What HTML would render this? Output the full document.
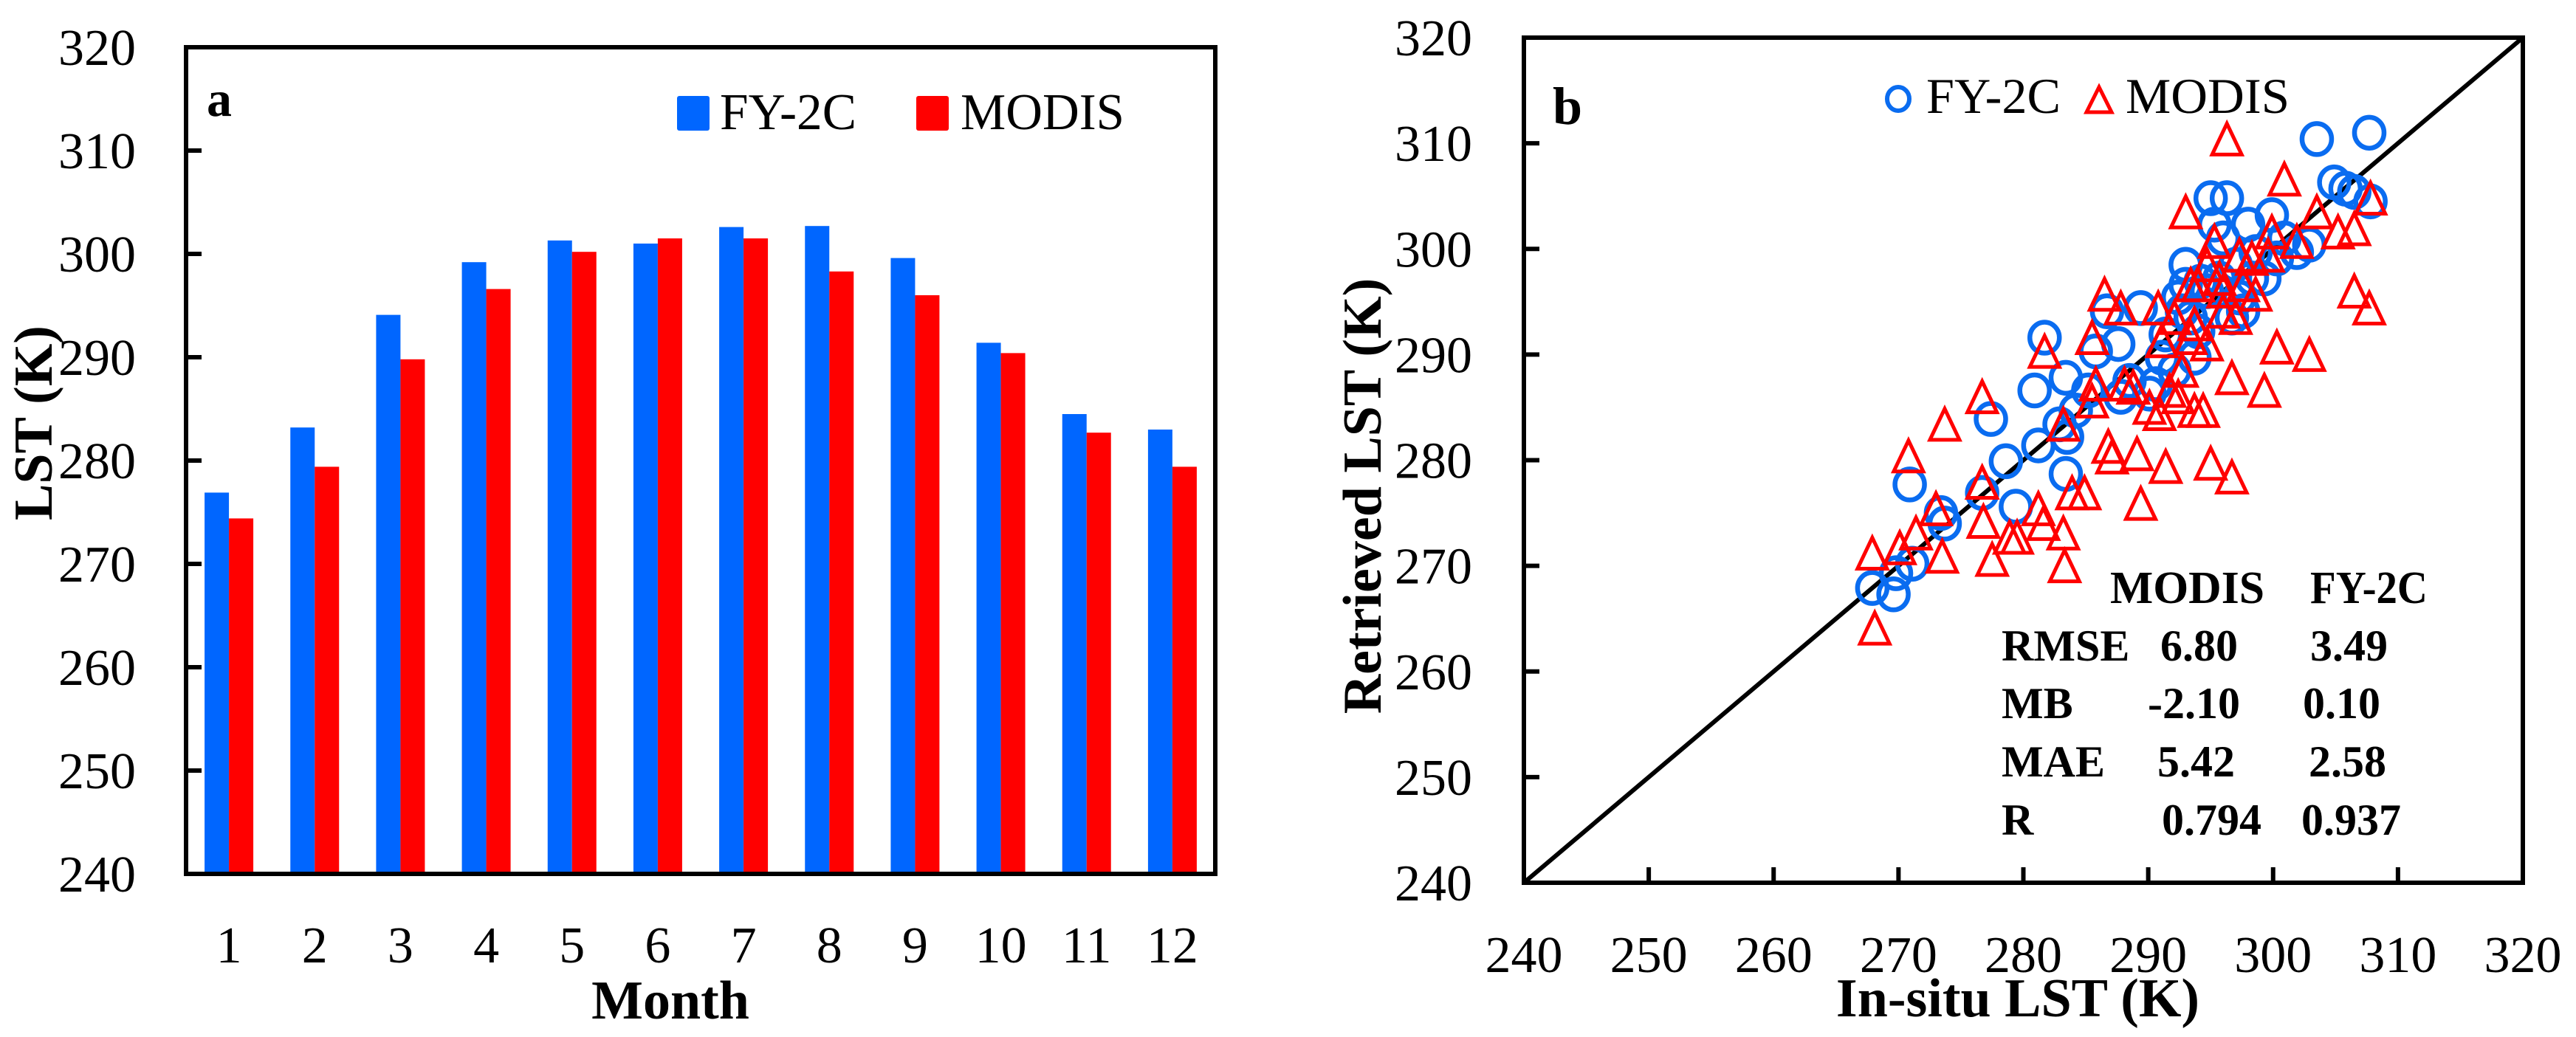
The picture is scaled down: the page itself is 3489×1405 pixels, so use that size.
<!DOCTYPE html>
<html><head><meta charset="utf-8"><style>
html,body{margin:0;padding:0;background:#fff;}
svg{display:block;font-family:"Liberation Serif",serif;}
</style></head><body>
<svg id="chart" xmlns="http://www.w3.org/2000/svg" width="3489" height="1405" viewBox="0 0 3489 1405">
<rect x="0" y="0" width="3489" height="1405" fill="#fff"/>
<g id="pa"></g>
<g id="pb"></g>
</svg>
<script>
const months = ["1","2","3","4","5","6","7","8","9","10","11","12"];
const fy2cMonthly = [276.9,283.2,294.1,299.2,301.3,301.0,302.6,302.7,299.6,291.4,284.5,283.0];
const modisMonthly = [274.4,279.4,289.8,296.6,300.2,301.5,301.5,298.3,296.0,290.4,282.7,279.4];
const yTicksA = [240,250,260,270,280,290,300,310,320];
const ticksB = [240,250,260,270,280,290,300,310,320];
const fyX = [267.9,269.6,269.8,271.1,270.9,273.4,273.7,276.7,277.4,278.6,279.4,281.7,280.9,281.2,283.4,282.9,283.5,283.4,284.2,285.2,285.8,286.7,287.6,287.8,288.5,289.4,290.1,290.6,291.1,291.4,292.1,292.4,292.7,293.0,293.4,293.7,294.0,294.2,294.7,295.0,295.3,296.0,296.3,296.7,297.0,297.6,298.0,298.3,298.6,299.3,299.9,300.3,300.9,301.9,302.9,303.5,304.9,305.8,306.5,307.7,307.8,297.3,295.7,293.0];
const fyY = [267.9,267.3,269.3,270.2,277.7,275.0,274.0,276.9,283.9,279.9,275.6,291.6,286.6,281.4,287.8,283.4,282.2,278.7,284.7,286.6,290.3,294.1,291.0,286.0,287.5,294.4,286.3,287.2,289.7,291.9,288.5,295.4,294.1,298.5,293.5,289.7,292.2,296.9,296.0,304.8,302.3,301.0,304.8,293.5,298.5,294.1,302.3,297.2,299.7,297.2,303.2,299.1,301.0,299.7,300.4,310.4,306.3,305.7,305.4,311.0,304.5,295.4,297.2,296.6];
const modisX = [268.1,267.9,270.1,270.8,271.4,273.0,273.5,273.7,276.7,276.7,276.8,277.5,278.9,279.5,281.2,281.7,281.6,283.2,283.3,283.2,283.9,284.9,285.5,285.5,285.8,286.5,286.8,287.1,287.8,288.1,288.8,289.1,289.4,290.1,290.8,290.9,291.1,291.4,291.7,292.1,292.4,292.7,293.0,293.4,293.7,294.0,294.4,294.7,295.0,295.3,295.7,296.0,296.3,296.7,296.7,297.0,297.3,297.6,298.3,298.6,299.3,299.6,299.9,300.3,300.9,301.9,302.9,303.5,305.2,306.5,306.5,307.7,307.8,293.4,294.7,293.7,296.0];
const modisY = [264.1,271.2,271.7,280.4,273.1,275.4,270.9,283.4,286.0,277.9,274.2,270.6,272.7,272.7,275.4,290.3,274.0,273.1,270.0,283.4,276.9,276.9,291.6,285.6,287.2,295.7,281.3,280.3,294.4,287.2,286.9,280.6,275.9,285.0,294.4,284.4,291.3,279.4,286.6,293.5,286.0,288.5,303.5,291.6,284.7,296.6,284.7,291.0,279.7,300.7,297.2,294.1,310.4,287.8,278.4,293.5,299.4,296.6,299.1,295.7,286.6,299.4,301.6,290.7,306.6,300.7,290.0,303.5,301.6,301.9,296.0,294.4,304.8,296.6,298.5,292.9,296.0];

const NS="http://www.w3.org/2000/svg";
function mk(parent, tag, attrs, text){
  const e=document.createElementNS(NS,tag);
  for(const k in attrs) e.setAttribute(k,attrs[k]);
  if(text!==undefined) e.textContent=text;
  parent.appendChild(e); return e;
}
const FONT = 70;
const TFONT = 74;

// ---------- Panel A ----------
const pa=document.getElementById('pa');
const aL=252,aR=1646,aT=64,aB=1184;
const yA=v=>aB-(v-240)/80*(aB-aT);
const band=(aR-aL)/months.length, bw=33;
months.forEach((m,i)=>{
  const cx=aL+band*(i+0.5);
  let r=mk(pa,'rect',{x:cx-bw,y:yA(fy2cMonthly[i]),width:bw,height:aB-yA(fy2cMonthly[i]),fill:'#0066ff'});
  
  
  r=mk(pa,'rect',{x:cx,y:yA(modisMonthly[i]),width:bw,height:aB-yA(modisMonthly[i]),fill:'#ff0000'});
  
  
  const t=mk(pa,'text',{x:cx,y:1304,'font-size':FONT,'text-anchor':'middle'},m);
  
  
});
yTicksA.forEach(v=>{
  const y=yA(v);
  if(v>240&&v<320){const l=mk(pa,'line',{x1:aL,x2:aL+21,y1:y,y2:y,stroke:'#000','stroke-width':6});
    
    }
  const t=mk(pa,'text',{x:184,y:y+24,'font-size':FONT,'text-anchor':'end'},String(v));
  
  
});
let fr=mk(pa,'rect',{x:aL,y:aT,width:aR-aL,height:aB-aT,fill:'none',stroke:'#000','stroke-width':6});


let tt=mk(pa,'text',{x:297,y:157,'font-size':68,'font-weight':'bold','text-anchor':'middle'},'a');


tt=mk(pa,'text',{x:908,y:1380,'font-size':TFONT,'font-weight':'bold','text-anchor':'middle'},'Month');


tt=mk(pa,'text',{x:0,y:0,'font-size':TFONT,'font-weight':'bold','text-anchor':'middle',transform:'translate(70,573) rotate(-90)'},'LST (K)');


let lg=mk(pa,'rect',{x:917,y:130,width:44,height:47,fill:'#0066ff',rx:3});


lg=mk(pa,'text',{x:975,y:175,'font-size':70,textLength:185,lengthAdjust:'spacingAndGlyphs'},'FY-2C');


lg=mk(pa,'rect',{x:1241,y:130,width:44,height:47,fill:'#ff0000',rx:3});


lg=mk(pa,'text',{x:1301,y:175,'font-size':70,textLength:222,lengthAdjust:'spacingAndGlyphs'},'MODIS');



// ---------- Panel B ----------
const pb=document.getElementById('pb');
const bL=2064,bR=3417,bT=51,bB=1196;
const xB=v=>bL+(v-240)/80*(bR-bL);
const yB=v=>bB-(v-240)/80*(bB-bT);
ticksB.forEach(v=>{
  const y=yB(v), x=xB(v);
  if(v>240&&v<320){
    let l=mk(pb,'line',{x1:bL,x2:bL+21,y1:y,y2:y,stroke:'#000','stroke-width':6});
    
    
    l=mk(pb,'line',{x1:x,x2:x,y1:bB,y2:bB-21,stroke:'#000','stroke-width':6});
    
    
  }
  let t=mk(pb,'text',{x:1994,y:y+24,'font-size':FONT,'text-anchor':'end'},String(v));
  
  
  t=mk(pb,'text',{x:x,y:1317,'font-size':FONT,'text-anchor':'middle'},String(v));
  
  
});
let dl=mk(pb,'line',{x1:xB(240),y1:yB(240),x2:xB(320),y2:yB(320),stroke:'#000','stroke-width':6});


fyX.forEach((v,i)=>{
  const c=mk(pb,'ellipse',{cx:xB(v),cy:yB(fyY[i]),rx:20,ry:21,fill:'none',stroke:'#0a6cf0','stroke-width':6.5});
  
  
});
function tri(cx,cy,w,h){return `${cx-w/2},${cy+h/2} ${cx+w/2},${cy+h/2} ${cx},${cy-h/2}`;}
modisX.forEach((v,i)=>{
  const p=mk(pb,'polygon',{points:tri(xB(v),yB(modisY[i]),40,42),fill:'none',stroke:'#ff0000','stroke-width':5,'stroke-linejoin':'miter'});
  
  
});
fr=mk(pb,'rect',{x:bL,y:bT,width:bR-bL,height:bB-bT,fill:'none',stroke:'#000','stroke-width':6});


tt=mk(pb,'text',{x:2123,y:168,'font-size':72,'font-weight':'bold','text-anchor':'middle'},'b');


tt=mk(pb,'text',{x:2733,y:1377,'font-size':TFONT,'font-weight':'bold','text-anchor':'middle'},'In-situ LST (K)');


tt=mk(pb,'text',{x:0,y:0,'font-size':TFONT,'font-weight':'bold','text-anchor':'middle',transform:'translate(1870,672) rotate(-90)'},'Retrieved LST (K)');


lg=mk(pb,'ellipse',{cx:2571,cy:134,rx:15,ry:16,fill:'none',stroke:'#0a6cf0','stroke-width':6});


lg=mk(pb,'text',{x:2609,y:153,'font-size':68,textLength:182,lengthAdjust:'spacingAndGlyphs'},'FY-2C');


lg=mk(pb,'polygon',{points:tri(2843,135,34,34),fill:'none',stroke:'#ff0000','stroke-width':5});


lg=mk(pb,'text',{x:2879,y:153,'font-size':68,textLength:222,lengthAdjust:'spacingAndGlyphs'},'MODIS');



// stats table
const statRows=["RMSE","MB","MAE","R"];
const statModis=["6.80","-2.10","5.42","0.794"];
const statFy=["3.49","0.10","2.58","0.937"];
const rowBase=[895,973,1052,1131];
const modisXs=[2926,2909,2922,2928];
const fyXs=[3129,3119,3127,3117];
let h=mk(pb,'text',{x:2858,y:817,'font-size':62,'font-weight':'bold',textLength:209,lengthAdjust:'spacingAndGlyphs'},'MODIS');


h=mk(pb,'text',{x:3129,y:817,'font-size':62,'font-weight':'bold',textLength:159,lengthAdjust:'spacingAndGlyphs'},'FY-2C');


statRows.forEach((r,i)=>{
  let t=mk(pb,'text',{x:2711,y:rowBase[i],'font-size':60,'font-weight':'bold'},r);
  
  
  t=mk(pb,'text',{x:modisXs[i],y:rowBase[i],'font-size':60,'font-weight':'bold'},statModis[i]);
  
  
  t=mk(pb,'text',{x:fyXs[i],y:rowBase[i],'font-size':60,'font-weight':'bold'},statFy[i]);
  
  
});
</script>
</body></html>
